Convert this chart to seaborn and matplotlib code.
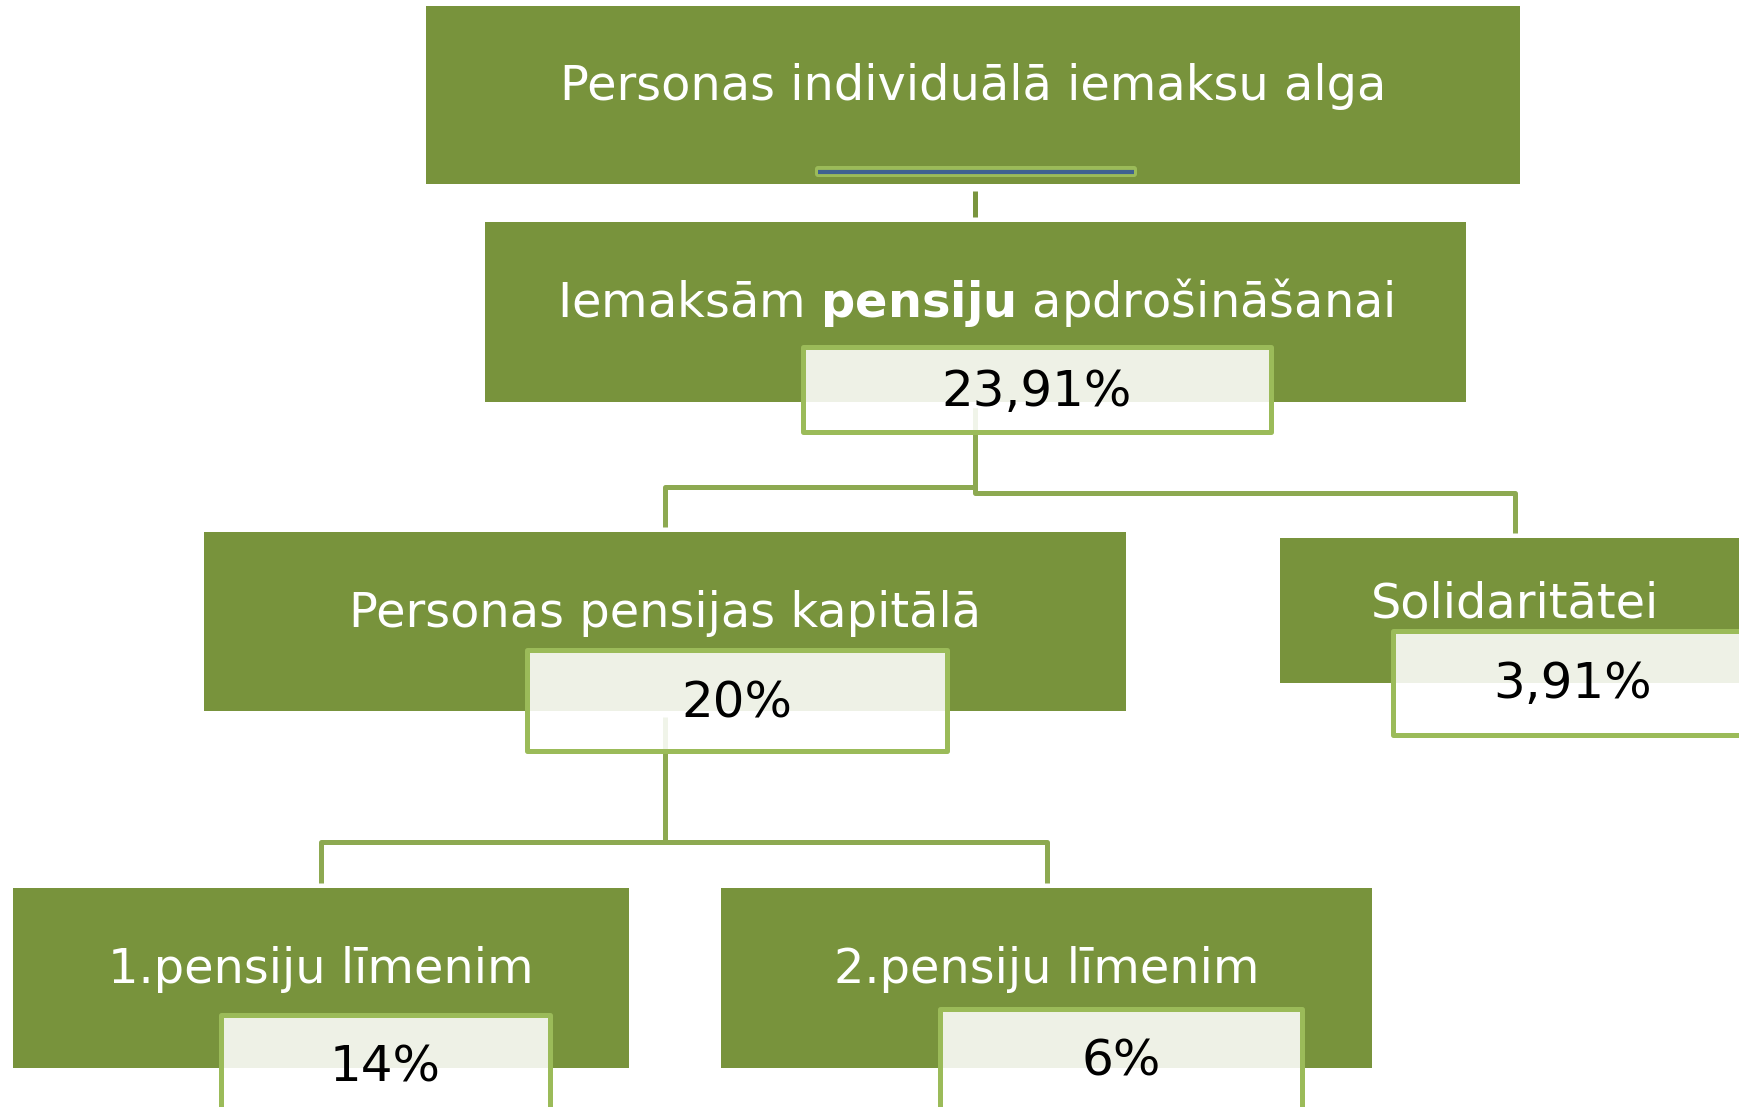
import matplotlib
matplotlib.use("Agg")
import matplotlib.pyplot as plt
import seaborn as sns
from matplotlib.patches import Rectangle, FancyBboxPatch

# --- contenuto del diagramma ---
labels = [
    "Personas individuālā iemaksu alga",
    "Iemaksām $\\mathbf{pensiju}$ apdrošināšanai",
    "Personas pensijas kapitālā",
    "Solidaritātei",
    "1.pensiju līmenim",
    "2.pensiju līmenim",
]
values = ["", "23,91%", "20%", "3,91%", "14%", "6%"]

# --- layout (pixel, y verso il basso) ---
box_x = [426, 485, 204, 1280, 13, 721]
box_y = [6, 222, 532, 538, 888, 888]
box_w = [1094, 981, 922, 470, 616, 651]
box_h = [178, 180, 179, 145, 180, 180]
label_base = [100, 317, 627, 617, 983, 983]

val_x = [0, 803, 527, 1393, 221, 940]
val_y = [0, 347, 650, 631, 1015, 1009]
val_w = [0, 468, 420, 360, 329, 362]
val_h = [0, 85, 101, 104, 96, 100]
val_base = [0, 406, 717, 698, 1082, 1076]

DARK = "#78933C"
LIGHT = "#9BBB59"
LINE = "#8DA951"

sns.set_theme(style="white")
plt.rcParams["font.family"] = ["DejaVu Sans"]

fig = plt.figure(figsize=(17.4, 11.07), dpi=100)
ax = fig.add_axes([0, 0, 1, 1])
ax.set_xlim(0, 1740)
ax.set_ylim(1107, 0)
ax.axis("off")

# box verdi
for x, y, w, h in zip(box_x, box_y, box_w, box_h):
    ax.add_patch(Rectangle((x, y), w, h, facecolor=DARK, edgecolor="none", zorder=1))

# barra decorativa nel primo box
ax.add_patch(FancyBboxPatch((815, 166), 322, 11, boxstyle="round,pad=0,rounding_size=3",
                            facecolor=LIGHT, edgecolor="none", zorder=2))
ax.plot([818, 1134], [172, 172], color="#3F6190", lw=3, solid_capstyle="butt", zorder=3)

# connettori
lw = 3.6
ax.plot([975.5, 975.5], [191, 217], color="#7A953E", lw=lw, solid_capstyle="butt", zorder=2)
ax.plot([975.5, 975.5, 665.5, 665.5], [408, 486.5, 486.5, 527], color=LINE, lw=lw,
        solid_capstyle="butt", solid_joinstyle="round", zorder=2)
ax.plot([975.5, 975.5, 1515, 1515], [408, 493, 493, 533], color=LINE, lw=lw,
        solid_capstyle="butt", solid_joinstyle="round", zorder=2)
ax.plot([665, 665], [717, 842], color=LINE, lw=lw, solid_capstyle="butt", zorder=2)
ax.plot([321, 321, 1047, 1047], [883, 842, 842, 883], color=LINE, lw=lw,
        solid_capstyle="butt", solid_joinstyle="round", zorder=2)

# riquadri percentuali
for i, v in enumerate(values):
    if not v:
        continue
    ax.add_patch(Rectangle((val_x[i], val_y[i]), val_w[i], val_h[i],
                           facecolor=(1, 1, 1, 0.88), edgecolor=LIGHT, lw=lw,
                           joinstyle="round", zorder=4))
    ax.text(val_x[i] + val_w[i] / 2, val_base[i], v,
            ha="center", va="baseline", fontsize=36, color="black", zorder=5)

# etichette
for i, lab in enumerate(labels):
    ax.text(box_x[i] + box_w[i] / 2, label_base[i], lab, ha="center", va="baseline",
            fontsize=34.5, color="white", zorder=5)

fig.savefig("out.png", dpi=100)
plt.close(fig)
